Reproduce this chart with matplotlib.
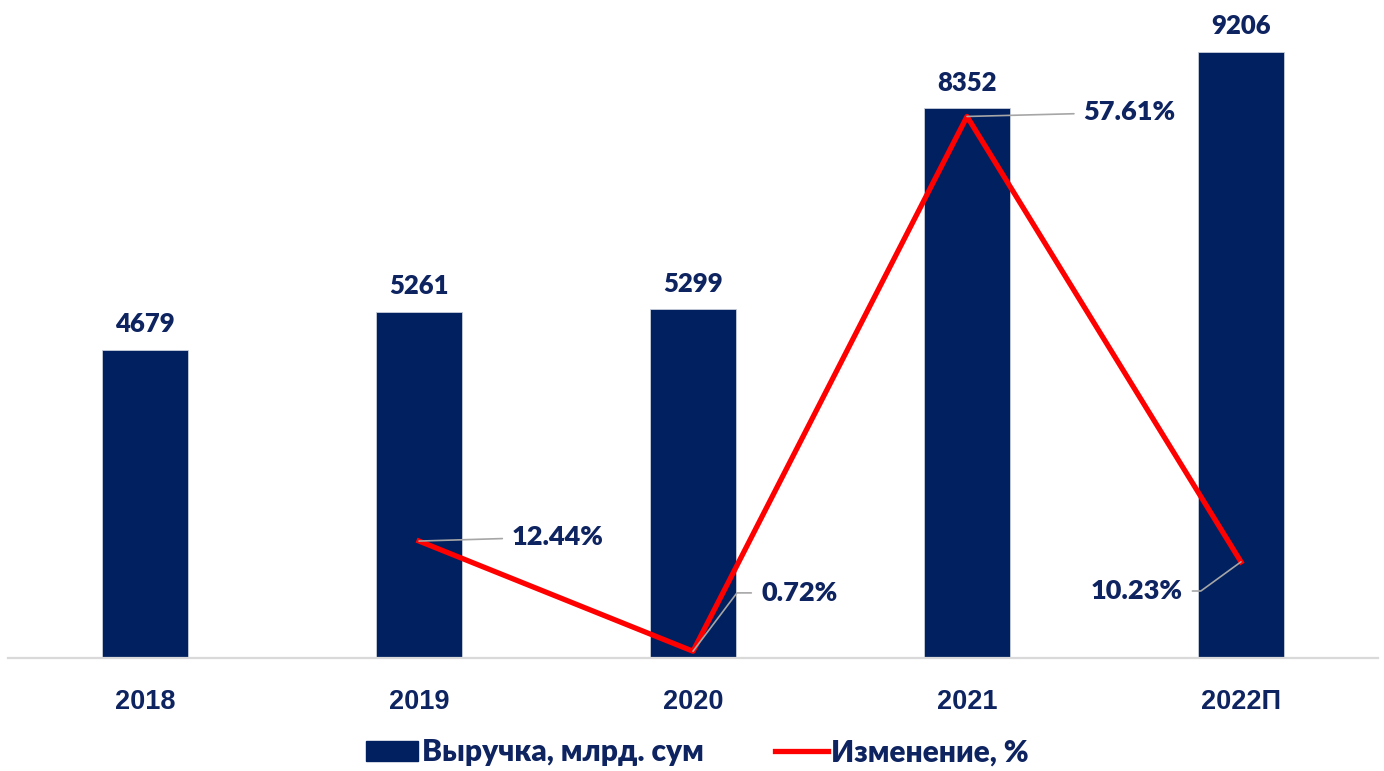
import matplotlib.pyplot as plt
from matplotlib.patches import Patch
from matplotlib.lines import Line2D

plt.rcParams['font.family'] = ['Lato', 'DejaVu Sans']

years = ['2018', '2019', '2020', '2021', '2022П']
revenue = [4679, 5261, 5299, 8352, 9206]
change_years = [1, 2, 3, 4]
change_pct = [12.44, 0.72, 57.61, 10.23]

NAVY = '#002060'
TEXT = '#0E2461'
RED = '#FF0000'
LEADER = '#A6A6A6'
W = 'heavy'

fig = plt.figure(figsize=(13.84, 7.71), dpi=100)
ax = fig.add_axes([8 / 1384, (771 - 658) / 771, 1370 / 1384, 658 / 771])
x = range(len(years))
ax.bar(x, revenue, width=0.314, color=NAVY, edgecolor='#C9CFDB', linewidth=0.6, zorder=2)
ax.set_xlim(-0.5, 4.5)
ax.set_ylim(0, 10000)
for i, v in enumerate(revenue):
    ax.text(i, v + 210, str(v), ha='center', va='bottom', fontsize=18.5,
            fontweight=W, color=TEXT)

ax.set_xticks(list(x))
ax.set_xticklabels(years, fontsize=19.5, fontweight='bold', color=TEXT,
                   family=['Liberation Sans', 'DejaVu Sans'])
ax.tick_params(axis='x', length=0, pad=22)
ax.set_yticks([])
for side in ['top', 'right', 'left']:
    ax.spines[side].set_visible(False)
ax.spines['bottom'].set_color('#D9D9D9')
ax.spines['bottom'].set_linewidth(1.6)

ax2 = ax.twinx()
ax2.set_ylim(0, 70)
ax2.set_yticks([])
for side in ['top', 'right', 'left', 'bottom']:
    ax2.spines[side].set_visible(False)
ax2.plot(change_years, change_pct, color=RED, linewidth=3.8, zorder=3)

# label offsets (points), alignment and leader style for each change value
offsets = [(67, 3), (49, 42), (84, 3), (-42, -21)]
aligns = ['left', 'left', 'left', 'right']
leaders = ['arc3', 'angle,angleA=0,angleB=53,rad=0',
           'arc3', 'angle,angleA=0,angleB=36,rad=0']
for xi, yi, (dx, dy), ha, cs in zip(change_years, change_pct, offsets, aligns, leaders):
    ax2.annotate(f'{yi:.2f}%', xy=(xi, yi), xytext=(dx, dy), textcoords='offset points',
                 ha=ha, va='center', fontsize=19.5, fontweight=W, color=TEXT,
                 arrowprops=dict(arrowstyle='-', color=LEADER, lw=1.2,
                                 shrinkA=5, shrinkB=0, connectionstyle=cs))

handles = [Patch(facecolor=NAVY, edgecolor=NAVY),
           Line2D([0], [0], color=RED, linewidth=3.8)]
fig.legend(handles, ['Выручка, млрд. сум', 'Изменение, %'], loc='center',
           bbox_to_anchor=(0.504, 0.024), ncol=2, frameon=False,
           prop={'size': 21.5, 'weight': W}, labelcolor=TEXT,
           handlelength=1.75, handletextpad=0.12, columnspacing=2.4)

fig.savefig('out.png', dpi=100)
